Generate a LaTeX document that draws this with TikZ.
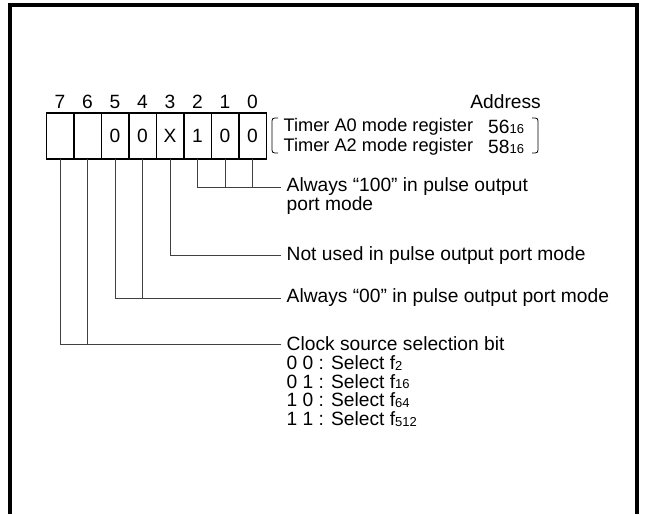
\documentclass[tikz,border=0pt]{standalone}
\usepackage{fontspec}
\setmainfont{Liberation Sans}
\usepackage{tikz}
\usetikzlibrary{positioning}
\newcommand{\lowidx}[1]{\raisebox{-0.6pt}{\fontsize{13}{13}\selectfont #1}}

\begin{document}
\begin{tikzpicture}[x=1pt,y=-1pt,
                   cell/.style={draw,line width=1.5pt,minimum width=27.5pt,minimum height=46pt,inner sep=0pt,outer sep=0pt},
                   txt/.style={anchor=west,inner xsep=5.5pt,inner ysep=0pt},
                   lead/.style={draw=black!75,line width=0.9pt},
                   font=\fontsize{19.2}{18.75}\selectfont]
\useasboundingbox (0,0) rectangle (645,514);
\draw[line width=3.5pt] (10,514) -- (10,5) -- (637,5) -- (637,514);
% register bits
\foreach \b/\v [count=\i from 0] in {7/,6/,5/0,4/0,3/X,2/1,1/0,0/0}{
  \node[cell] (c\b) at (60+27.5*\i,136) {\v};
  \node (n\b) at (60+27.5*\i,102) {\b};
}
\node[anchor=east,inner sep=0pt] (addr) at (541,102) {Address};
\node[txt,font=\fontsize{18.2}{18}\selectfont] (ta0) at (278,127) {Timer A0 mode register};
\node[txt,font=\fontsize{18.2}{18}\selectfont] (ta2) at (278,147) {Timer A2 mode register};
\node[anchor=west,inner sep=0pt] (a0) at (488,127) {56\lowidx{16}};
\node[anchor=west,inner sep=0pt] (a2) at (488,147) {58\lowidx{16}};
\draw[line width=0.8pt] (278,118) .. controls (272,118) .. (272,124) -- (272,147) .. controls (272,153) .. (278,153);
\draw[line width=0.8pt] (532,118) .. controls (538,118) .. (538,124) -- (538,147) .. controls (538,153) .. (532,153);
% bit descriptions
\node[txt] (l100) at (281,187) {Always “100” in pulse output};
\node[txt] (l100b) at (281,206) {port mode};
\node[txt] (lnot) at (281,255.5) {Not used in pulse output port mode};
\node[txt] (l00) at (281,298) {Always “00” in pulse output port mode};
\node[txt] (lclk) at (281,344) {Clock source selection bit};
\foreach \s/\f [count=\k] in {0 0/2,0 1/16,1 0/64,1 1/512}
  \node[txt] (sel\k) at (281,344+18.75*\k) {\s{} : Select f\lowidx{\f}};
\draw[lead] (c2.south) |- (l100.west);
\draw[lead] (c1.south) -- (c1.south |- l100.west);
\draw[lead] (c0.south) -- (c0.south |- l100.west);
\draw[lead] (c3.south) |- (lnot.west);
\draw[lead] (c5.south) |- (l00.west);
\draw[lead] (c4.south) -- (c4.south |- l00.west);
\draw[lead] (c7.south) |- (lclk.west);
\draw[lead] (c6.south) -- (c6.south |- lclk.west);
\end{tikzpicture}
\end{document}
